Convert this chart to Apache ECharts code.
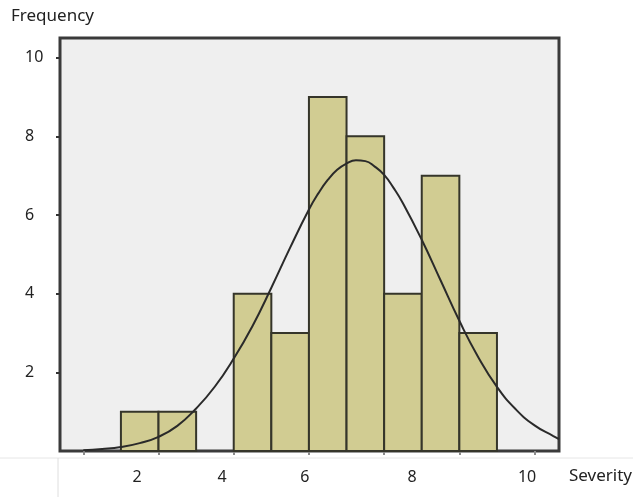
<!DOCTYPE html>
<html>
<head>
<meta charset="utf-8">
<script src="https://cdn.jsdelivr.net/npm/echarts@6/dist/echarts.min.js"></script>
<style>html,body{margin:0;padding:0;background:#fff}#c{width:633px;height:497px}</style>
</head>
<body>
<div id="c"></div>
<script>
// Histogram bins (lower/upper edges) and frequencies
const binEdges = [1, 2, 3, 4, 5, 6, 7, 8, 9, 10, 11];
const counts = [1, 1, 0, 4, 3, 9, 8, 4, 7, 3];
// Fitted normal curve
const curveX = [0, 0.5, 1, 1.5, 2, 2.5, 3, 3.5, 4, 4.5, 5, 5.5, 6, 6.25, 6.5, 6.75, 7, 7.25, 7.5, 7.75, 8, 8.25, 8.5, 9, 9.5, 10, 10.5, 11, 11.5, 12, 12.5, 12.65];
const curveY = [0.02, 0.05, 0.1, 0.2, 0.36, 0.64, 1.08, 1.64, 2.35, 3.18, 4.15, 5.17, 6.14, 6.55, 6.89, 7.15, 7.31, 7.39, 7.37, 7.23, 7.02, 6.69, 6.3, 5.37, 4.34, 3.31, 2.39, 1.63, 1.06, 0.65, 0.38, 0.3];
const yTicks = [2, 4, 6, 8, 10];
const xTicks = [0, 2, 4, 6, 8, 10, 12];
const xTickLabels = ['2', '4', '6', '8', '10'];
const xLabelAt = [1.43, 3.69, 5.89, 8.74, 11.8];

const chart = echarts.init(document.getElementById('c'), null, {renderer: 'canvas'});
const font = '"Noto Sans", "Open Sans", sans-serif';

const barData = counts.map((c, i) => [binEdges[i], binEdges[i + 1], c]);

chart.setOption({
  animation: false,
  title: [
    {text: 'Frequency', left: 6, top: 3, textStyle: {fontSize: 17, fontWeight: 'normal', color: '#222', fontFamily: font}},
    {text: 'Severity', left: 564, top: 463, textStyle: {fontSize: 17, fontWeight: 'normal', color: '#222', fontFamily: font}}
  ],
  grid: {
    left: 60, right: 74, top: 38, bottom: 46,
    show: true, backgroundColor: '#efefef', borderColor: '#3a3a3a', borderWidth: 3
  },
  xAxis: [
    {
      type: 'value', min: -0.62, max: 12.65,
      axisLine: {show: false, onZero: false}, splitLine: {show: false},
      axisTick: {show: true, customValues: xTicks, length: 4, lineStyle: {color: '#8a8a8a', width: 2}},
      axisLabel: {show: false}
    },
    {
      type: 'value', min: -0.62, max: 12.65, position: 'bottom',
      axisLine: {show: false, onZero: false}, splitLine: {show: false}, axisTick: {show: false},
      axisLabel: {
        show: true, customValues: xLabelAt, margin: 18,
        fontSize: 16, color: '#222', fontFamily: font,
        formatter: v => { const i = xLabelAt.indexOf(v); return i >= 0 ? xTickLabels[i] : ''; }
      }
    }
  ],
  yAxis: {
    type: 'value', min: 0, max: 10.5, interval: 2,
    axisLine: {show: false, onZero: false}, splitLine: {show: false},
    axisTick: {show: true, customValues: yTicks, length: 4, lineStyle: {color: '#333', width: 2}},
    axisLabel: {customValues: yTicks, align: 'left', margin: 35, fontSize: 16, color: '#222', fontFamily: font}
  },
  graphic: [
    {type: 'line', shape: {x1: 0, y1: 458, x2: 633, y2: 458}, style: {stroke: '#e6e6e6', lineWidth: 1}, silent: true},
    {type: 'line', shape: {x1: 58, y1: 458, x2: 58, y2: 497}, style: {stroke: '#dedede', lineWidth: 1}, silent: true}
  ],
  series: [
    {
      type: 'custom',
      xAxisIndex: 0,
      data: barData,
      encode: {x: [0, 1], y: 2},
      renderItem: (params, api) => {
        const v = api.value(2);
        if (!v) return null;
        const p0 = api.coord([api.value(0), 0]);
        const p1 = api.coord([api.value(1), v]);
        return {
          type: 'rect',
          shape: {x: p0[0], y: p1[1], width: p1[0] - p0[0], height: p0[1] - p1[1]},
          style: {fill: '#d1cc92', stroke: '#35352a', lineWidth: 2}
        };
      },
      z: 2
    },
    {
      type: 'line',
      xAxisIndex: 0,
      data: curveX.map((x, i) => [x, curveY[i]]),
      smooth: 0.5, symbol: 'none',
      lineStyle: {color: '#2a2a2a', width: 2},
      z: 3
    }
  ]
});
</script>
</body>
</html>
